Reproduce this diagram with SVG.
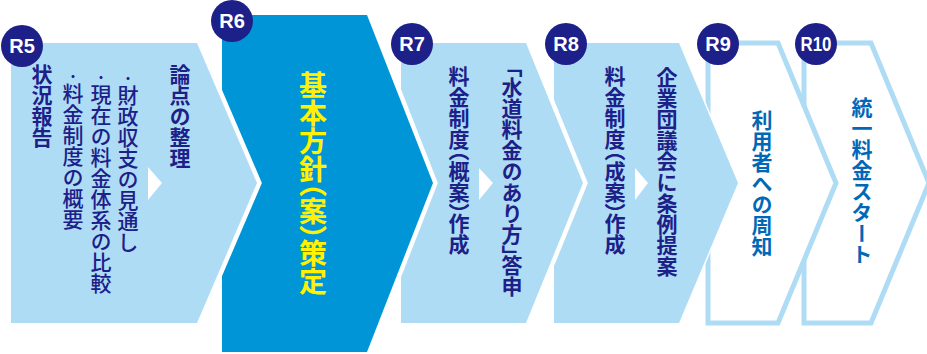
<svg xmlns="http://www.w3.org/2000/svg" width="927" height="354" viewBox="0 0 927 354">
<style>
.light{fill:#afdcf5}
.gap9{stroke:#fff;stroke-width:9;paint-order:stroke;stroke-linejoin:miter}
.gap3{stroke:#fff;stroke-width:3;paint-order:stroke;stroke-linejoin:miter}
.outline{fill:#fff;stroke:#afdcf5;stroke-width:5;stroke-linejoin:miter}
.badge{fill:#1d2088}
.lbl{font-family:"Liberation Sans",Arial,sans-serif;font-weight:700;font-size:20px;fill:#fff;text-anchor:middle}
.v{font-family:"Noto Sans CJK JP","Noto Sans CJK SC",sans-serif;writing-mode:vertical-rl;font-size:21px;font-weight:700}
.m{font-weight:500}
.navy{fill:#1d2088}
.blue{fill:#0068b7}
.yel{fill:#fff100}
.half{font-feature-settings:"vhal" 1}
.dot{font-size:13px}
.arrow{fill:#fff}
</style>
<rect width="927" height="354" fill="#fff"/>
<g id="r10">
<polygon class="outline" points="804,43 871,43 929,183 871,323 804,323"/>
<circle class="badge" cx="816" cy="44" r="21"/>
<text class="lbl" x="816" y="51" textLength="31" lengthAdjust="spacingAndGlyphs">R10</text>
<text class="v blue" x="862" y="97">統一料金スタート</text>
</g>
<g id="r9">
<polygon class="outline" points="708,43 778,43 836,183 778,323 708,323"/>
<circle class="badge" cx="718" cy="44" r="21"/>
<text class="lbl" x="718" y="51">R9</text>
<text class="v blue" x="762" y="110">利用者への周知</text>
</g>
<g id="r8">
<polygon class="light gap3" points="554,43 679,43 738,183 679,323 554,323"/>
<circle class="badge" cx="566" cy="44" r="21"/>
<text class="lbl" x="566" y="51">R8</text>
<text class="v navy half" x="615" y="66">料金制度（成案）作成</text>
<text class="v navy" x="667" y="67">企業団議会に条例提案</text>
</g>
<g id="r7">
<polygon class="light gap9" points="401,43 526,43 583,183 526,323 401,323"/>
<circle class="badge" cx="412" cy="44" r="21"/>
<text class="lbl" x="412" y="51">R7</text>
<text class="v navy half" x="459" y="66">料金制度（概案）作成</text>
<text class="v navy half" x="512" y="66">「水道料金のあり方」答申</text>
</g>
<g id="r6">
<polygon fill="#0095d6" class="gap9" points="222,15 367,15 433,183 367,352 222,352"/>
<circle class="badge" cx="232" cy="21" r="21"/>
<text class="lbl" x="232" y="28">R6</text>
<text class="v yel half" x="313" y="71" style="font-size:28px">基本方針（案）策定</text>
</g>
<g id="r5">
<polygon class="light gap9" points="11,43 197,43 257,183 197,323 11,323"/>
<circle class="badge" cx="22" cy="46" r="21"/>
<text class="lbl" x="22" y="53">R5</text>
<text class="v navy" x="42" y="64">状況報告</text>
<text class="v navy m" x="73" y="70"><tspan class="dot">・</tspan>料金制度の概要</text>
<text class="v navy m" x="101" y="71"><tspan class="dot">・</tspan>現在の料金体系の比較</text>
<text class="v navy m" x="128" y="72"><tspan class="dot">・</tspan>財政収支の見通し</text>
<text class="v navy" x="180" y="64">論点の整理</text>
</g>
<g id="connectors">
<polygon class="arrow" points="148,167 162,183 148,200"/>
<polygon class="arrow" points="479,168 493,183 479,200"/>
<polygon class="arrow" points="635,168 648,183 635,200"/>
</g>
</svg>
